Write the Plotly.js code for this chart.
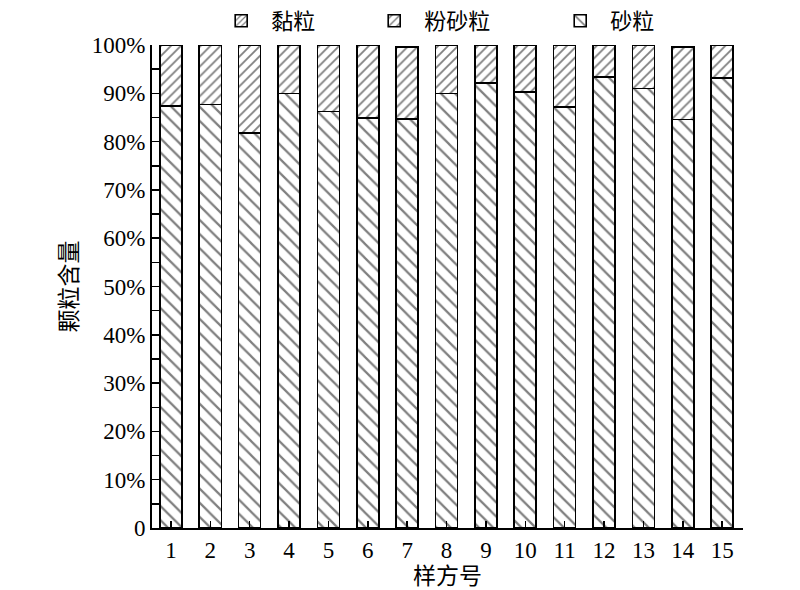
<!DOCTYPE html>
<html>
<head>
<meta charset="utf-8">
<script src="https://cdn.plot.ly/plotly-3.0.1.min.js"></script>
<style>html,body{margin:0;padding:0;background:#fff;}</style>
</head>
<body>
<div id="chart" style="width:800px;height:590px;"></div>
<script>
const samples = ['1','2','3','4','5','6','7','8','9','10','11','12','13','14','15'];
const sand = [0.874,0.877,0.818,0.900,0.862,0.849,0.847,0.900,0.921,0.903,0.872,0.934,0.910,0.846,0.932];
const silt = [0.126,0.123,0.182,0.100,0.138,0.151,0.149,0.100,0.079,0.097,0.128,0.066,0.090,0.150,0.068];
const clay = [0,0,0,0,0,0,0,0,0,0,0,0,0,0,0];
const seriesNames = ['砂粒', '粉砂粒', '黏粒'];
const yTickVals = [0,0.1,0.2,0.3,0.4,0.5,0.6,0.7,0.8,0.9,1.0];
const yTickText = ['0','10%','20%','30%','40%','50%','60%','70%','80%','90%','100%'];

const serif = 'Liberation Serif, Times New Roman, Noto Sans CJK SC, serif';
const padA = '\u00a0'.repeat(8);
const padB = '\u00a0'.repeat(10);
function pat(shape, size, sol){
  return {shape: shape, size: size, solidity: sol, fgcolor: '#000', bgcolor: '#fff', fillmode: 'overlay'};
}
const lineStyle = {color: '#000', width: 1.6};
const traces = [
  {type:'bar', name:seriesNames[0], x:samples, y:sand, width:0.56,
   marker:{color:'#fff', line:lineStyle, pattern:pat('\\', 10, 0.22)}},
  {type:'bar', name:seriesNames[1] + padB, x:samples, y:silt, width:0.56,
   marker:{color:'#fff', line:lineStyle, pattern:pat('/', 7, 0.26)}},
  {type:'bar', name:seriesNames[2] + padA, x:samples, y:clay, width:0.56,
   marker:{color:'#fff', line:lineStyle, pattern:pat('/', 5, 0.3)}}
];
const layout = {
  width:800, height:590,
  margin:{l:152, r:57, t:45, b:62, autoexpand:false},
  paper_bgcolor:'#fff', plot_bgcolor:'#fff',
  barmode:'stack',
  font:{family:serif, size:22, color:'#000'},
  showlegend:true,
  legend:{orientation:'h', traceorder:'reversed', x:0.48, xanchor:'center',
          yref:'container', y:1, yanchor:'top',
          font:{family:serif, size:22}, itemwidth:50,
          bgcolor:'rgba(0,0,0,0)'},
  xaxis:{type:'category', range:[-0.48,14.53], showline:true, linecolor:'#000', linewidth:2,
         ticks:'inside', ticklen:7, tickwidth:1.5, tickcolor:'#000', mirror:false,
         showgrid:false, zeroline:false, tickfont:{family:serif, size:23},
         title:{text:'样方号', font:{family:serif, size:23}, standoff:6}},
  yaxis:{range:[0,1], showline:true, linecolor:'#000', linewidth:2,
         ticks:'inside', ticklen:7, tickwidth:1.5, tickcolor:'#000',
         tickvals:yTickVals, ticktext:yTickText, showgrid:false, zeroline:false,
         tickfont:{family:serif, size:23},
         minor:{dtick:0.05, ticks:'inside', ticklen:7, tickwidth:1.5, tickcolor:'#000', showgrid:false},
         title:{text:'颗粒含量', font:{family:serif, size:23}, standoff:8}}
};
Plotly.newPlot('chart', traces, layout, {displayModeBar:false, staticPlot:true});
</script>
</body>
</html>
